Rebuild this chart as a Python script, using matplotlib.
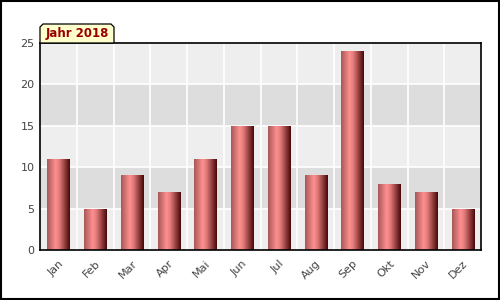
import numpy as np
import matplotlib
matplotlib.use("Agg")
import matplotlib.pyplot as plt
from matplotlib.colors import LinearSegmentedColormap
from matplotlib.patches import Polygon, Rectangle

months = ["Jan", "Feb", "Mar", "Apr", "Mai", "Jun", "Jul", "Aug", "Sep", "Okt", "Nov", "Dez"]
values = [11, 5, 9, 7, 11, 15, 15, 9, 24, 8, 7, 5]
yticks = [0, 5, 10, 15, 20, 25]
title = "Jahr 2018"

fig = plt.figure(figsize=(5, 3), dpi=100)
fig.patch.set_facecolor("white")
ax = fig.add_axes([0.08, 1 - 250 / 300, 0.882, (250 - 43) / 300])

n = len(months)
x = np.arange(n)
ax.set_xlim(-0.5, n - 0.5)
ax.set_ylim(0, 25)

# alternating bands
for i, lo in enumerate(yticks[:-1]):
    ax.axhspan(lo, lo + 5, color="#eeeeee" if i % 2 == 0 else "#dddddd", zorder=0, lw=0)
for yv in yticks[1:-1]:
    ax.axhline(yv, color="white", lw=1.2, zorder=1)
for xv in np.arange(0.5, n - 0.5, 1):
    ax.axvline(xv, color="white", lw=1.2, zorder=1)

cmap = LinearSegmentedColormap.from_list(
    "bar", [(0, "#a85858"), (0.38, "#ff9090"), (0.55, "#e07878"), (1.0, "#4a0808")])
grad = np.linspace(0, 1, 64).reshape(1, -1)
bars = ax.bar(x, values, width=0.6, color="none", edgecolor="none", zorder=2)
for b in bars:
    x0, w, h = b.get_x(), b.get_width(), b.get_height()
    im = ax.imshow(grad, cmap=cmap, extent=[x0, x0 + w, 0, h], aspect="auto",
                   zorder=2, interpolation="bilinear")
    im.set_clip_path(b)
ax.set_xlim(-0.5, n - 0.5)
ax.set_ylim(0, 25)

ax.set_xticks(x)
ax.set_xticklabels(months, rotation=45, ha="right", va="top", rotation_mode="anchor",
                   fontsize=8, color="#444444")
ax.set_yticks(yticks)
ax.set_yticklabels([str(v) for v in yticks], fontsize=8, color="#444444")
ax.tick_params(length=0, pad=4)
ax.tick_params(axis="x", pad=6)
for s in ax.spines.values():
    s.set_color("black")
    s.set_linewidth(1.2)

# title tab
W, H = 500, 300
px = lambda X, Y: (X / W, 1 - Y / H)
tab = Polygon([px(40, 43), px(40, 27), px(43, 24), px(111, 24), px(114, 27), px(114, 43)],
              closed=True, transform=fig.transFigure, facecolor="#ffffcc",
              edgecolor="black", lw=0.9, zorder=5)
fig.patches.append(tab)
fig.text(77 / W, 1 - 34 / H, title, ha="center", va="center", fontsize=8.5,
         fontweight="bold", color="#990000", zorder=6)

# outer border
fig.patches.append(Rectangle((0.001, 0.002), 0.997, 0.995, transform=fig.transFigure,
                             fill=False, edgecolor="black", lw=1.5))

fig.savefig("out.png", dpi=100)
